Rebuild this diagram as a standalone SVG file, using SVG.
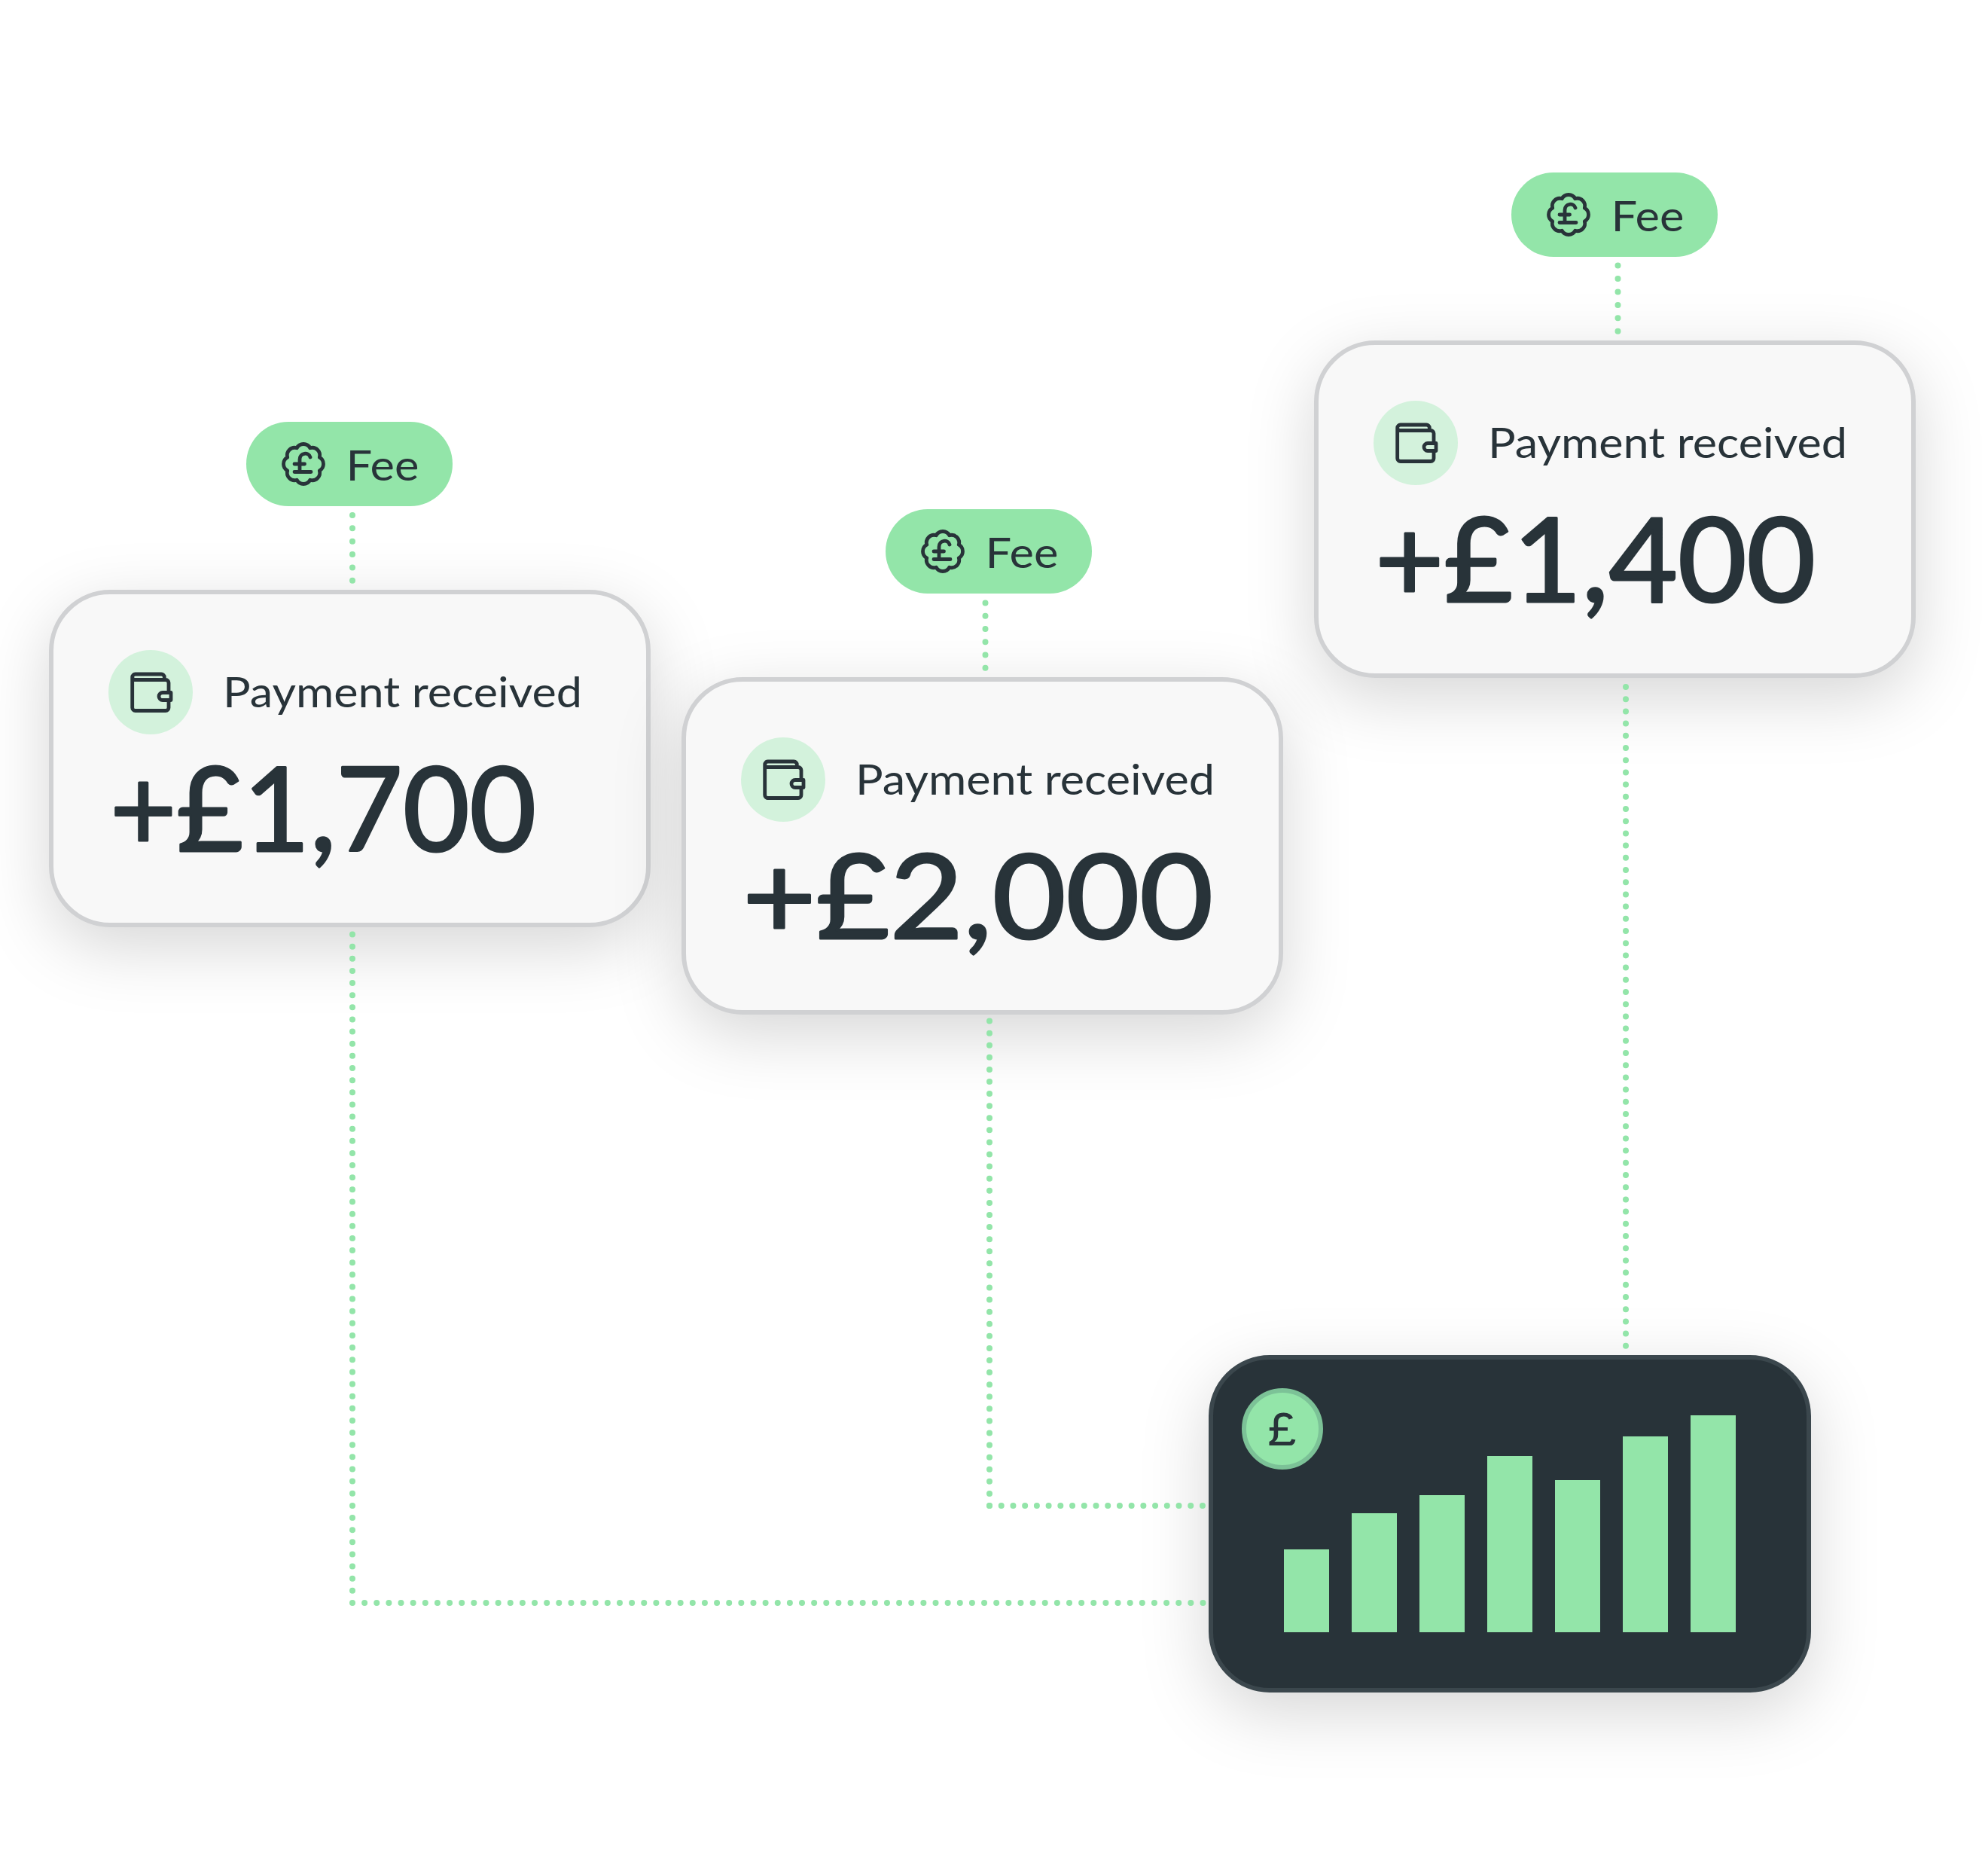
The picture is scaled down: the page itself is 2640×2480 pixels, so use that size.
<svg xmlns="http://www.w3.org/2000/svg" width="2640" height="2480" viewBox="0 0 2640 2480">
<defs>
<style>
.card{fill:#f8f8f8;stroke:#d0d1d3;stroke-width:6;filter:url(#sh)}
.dark{fill:#283339;stroke:#3b474d;stroke-width:6;filter:url(#sh)}
.pill{fill:#93e5a9}
.disc{fill:#d3f2dc}
.ic{fill:none;stroke:#283339;stroke-width:4.800;stroke-linecap:round;stroke-linejoin:round}
.dot{fill:none;stroke:#93e5a9;stroke-width:8;stroke-linecap:round}
.bar{fill:#93e5a9}
text{fill:#283339;font-family:"Lato","Liberation Sans",sans-serif}
.fee{font-size:57px;font-weight:400}
.lab{font-size:57px;font-weight:400}
.amt{font-size:155px;font-weight:400;stroke:#283339;stroke-width:3;stroke-linejoin:round}
</style>
<filter id="sh" x="-30%" y="-40%" width="160%" height="190%" color-interpolation-filters="sRGB">
<feDropShadow dx="0" dy="26" stdDeviation="44" flood-color="#000" flood-opacity="0.16"/>
</filter>
<g id="wallet">
<path class="ic" d="M18.300 -16.500V-20a4 4 0 0 0 -4 -4H-20.300a4 4 0 0 0 -4 4V20.500a4 4 0 0 0 4 4H20a4 4 0 0 0 4 -4V10.500M24 0.500V-12.500a4 4 0 0 0 -4 -4H-20.800a3.500 3.500 0 0 1 -3.500 -3.500"/>
<path class="ic" d="M27 0.500H16a5 5 0 0 0 0 10H27Z"/>
</g>
<g id="badge">
<path class="ic" d="M8.800 -21.250A10 10 0 0 1 21.250 -8.800A10 10 0 0 1 21.250 8.800A10 10 0 0 1 8.800 21.250A10 10 0 0 1 -8.800 21.250A10 10 0 0 1 -21.250 8.800A10 10 0 0 1 -21.250 -8.800A10 10 0 0 1 -8.800 -21.250A10 10 0 0 1 8.800 -21.250Z"/>
<path class="ic" d="M-12 10.500H10M-12 0H1.500M-5 10.500V-6C-5 -15.500 7 -16 9 -9"/>
</g>
</defs>
<rect width="2640" height="2480" fill="#ffffff"/>

<g id="card-1700">
<rect class="card" x="68" y="786" width="793" height="442" rx="78"/>
<circle class="disc" cx="200" cy="919" r="56"/>
<use href="#wallet" x="200" y="919"/>
<text class="lab" x="296" y="938.500" textLength="477" lengthAdjust="spacingAndGlyphs">Payment received</text>
<text class="amt" x="146" y="1130" textLength="566" lengthAdjust="spacingAndGlyphs">+£1,700</text>
</g>
<g id="card-2000">
<rect class="card" x="908" y="902" width="793" height="442" rx="78"/>
<circle class="disc" cx="1040" cy="1035" r="56"/>
<use href="#wallet" x="1040" y="1035"/>
<text class="lab" x="1136" y="1054.500" textLength="477" lengthAdjust="spacingAndGlyphs">Payment received</text>
<text class="amt" x="986" y="1246" textLength="625" lengthAdjust="spacingAndGlyphs">+£2,000</text>
</g>
<g id="card-1400">
<rect class="card" x="1748" y="455" width="793" height="442" rx="78"/>
<circle class="disc" cx="1880" cy="588" r="56"/>
<use href="#wallet" x="1880" y="588"/>
<text class="lab" x="1976" y="607.500" textLength="477" lengthAdjust="spacingAndGlyphs">Payment received</text>
<text class="amt" x="1826" y="799" textLength="585" lengthAdjust="spacingAndGlyphs">+£1,400</text>
</g>

<g id="fee-1">
<rect class="pill" x="327" y="560" width="274" height="112" rx="56"/>
<use href="#badge" x="403" y="616"/>
<text class="fee" x="459.500" y="637.500" textLength="97" lengthAdjust="spacingAndGlyphs">Fee</text>
</g>
<g id="fee-2">
<rect class="pill" x="1176" y="676" width="274" height="112" rx="56"/>
<use href="#badge" x="1252" y="732"/>
<text class="fee" x="1308.500" y="753.500" textLength="97" lengthAdjust="spacingAndGlyphs">Fee</text>
</g>
<g id="fee-3">
<rect class="pill" x="2007" y="229" width="274" height="112" rx="56"/>
<use href="#badge" x="2083" y="285"/>
<text class="fee" x="2139.500" y="306.500" textLength="97" lengthAdjust="spacingAndGlyphs">Fee</text>
</g>

<g id="chart">
<rect class="dark" x="1608" y="1802" width="794" height="442" rx="78"/>
<rect class="bar" x="1705" y="2057" width="60" height="110"/>
<rect class="bar" x="1795" y="2009" width="60" height="158"/>
<rect class="bar" x="1885" y="1985" width="60" height="182"/>
<rect class="bar" x="1975" y="1933" width="60" height="234"/>
<rect class="bar" x="2065" y="1965" width="60" height="202"/>
<rect class="bar" x="2155" y="1907" width="60" height="260"/>
<rect class="bar" x="2245" y="1879" width="60" height="288"/>
<circle cx="1703" cy="1897" r="51" fill="#93e5a9" stroke="#7cc297" stroke-width="6"/>
<text x="1703" y="1919" text-anchor="middle" style="font-family:'Liberation Mono',monospace;font-size:64px">£</text>
</g>

<g id="connectors">
<path class="dot" stroke-dasharray="0 17.36" d="M468 684V772"/>
<path class="dot" stroke-dasharray="0 17.24" d="M1308.500 800.500V887.500"/>
<path class="dot" stroke-dasharray="0 17.44" d="M2148.500 352.600V440.500"/>
<path class="dot" stroke-dasharray="0 16.136" d="M468 1240.500V2128H1598"/>
<path class="dot" stroke-dasharray="0 16.085" d="M1314 1355.600V1999.500"/>
<path class="dot" stroke-dasharray="0 15.72" d="M1314 1999H1598"/>
<path class="dot" stroke-dasharray="0 16.2" d="M2159 912V1788"/>
</g>
</svg>
